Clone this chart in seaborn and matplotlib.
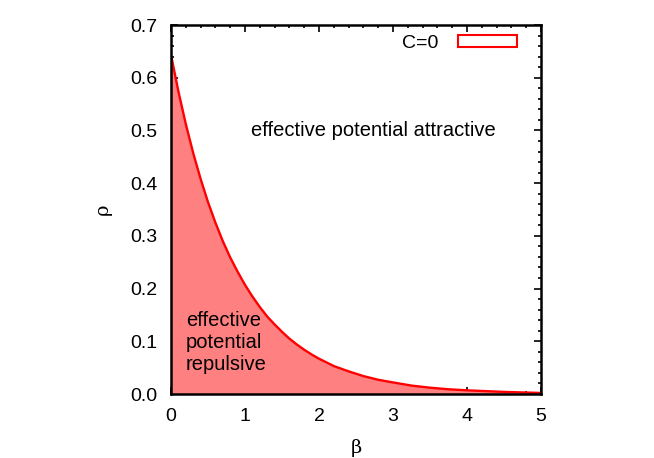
import matplotlib
matplotlib.use("Agg")
import matplotlib.pyplot as plt
import seaborn as sns
import pandas as pd
from matplotlib.patches import Patch
from matplotlib.ticker import MultipleLocator

beta = [0.0, 0.1, 0.2, 0.3, 0.4, 0.5, 0.6, 0.7, 0.8, 0.9, 1.0, 1.1, 1.2, 1.3, 1.4,
        1.5, 1.6, 1.7, 1.8, 1.9, 2.0, 2.2, 2.4, 2.6, 2.8, 3.0, 3.25, 3.5, 3.75,
        4.0, 4.5, 5.0]
rho = [0.643, 0.574, 0.512, 0.457, 0.408, 0.364, 0.325, 0.290, 0.259, 0.232,
       0.207, 0.185, 0.165, 0.147, 0.132, 0.118, 0.105, 0.094, 0.084, 0.075,
       0.067, 0.053, 0.043, 0.034, 0.027, 0.022, 0.016, 0.012, 0.009, 0.007,
       0.004, 0.002]
x_ticks = [0, 1, 2, 3, 4, 5]
y_ticks = [0.0, 0.1, 0.2, 0.3, 0.4, 0.5, 0.6, 0.7]
legend_label = "C=0"

sns.set_theme(style="white")
plt.rcParams['font.family'] = ['Liberation Sans', 'DejaVu Sans']
plt.rcParams['text.color'] = 'black'
plt.rcParams['xtick.color'] = 'black'
plt.rcParams['ytick.color'] = 'black'
plt.rcParams['axes.labelcolor'] = 'black'

df = pd.DataFrame({"beta": beta, "rho": rho})

fig = plt.figure(figsize=(6.54, 4.58), dpi=100)
ax = fig.add_axes([0.2615, 0.1397, 0.5657, 0.8057])

ax.fill_between(df["beta"], 0, df["rho"], color="#ff8080", linewidth=0, zorder=1)
sns.lineplot(data=df, x="beta", y="rho", ax=ax, color="red", linewidth=1.7, zorder=2)

ax.set_xlim(0, 5)
ax.set_ylim(0, 0.7)
ax.set_xticks(x_ticks)
ax.set_yticks(y_ticks)
ax.set_xticklabels([str(t) for t in x_ticks])
ax.set_yticklabels([f"{t:.1f}" for t in y_ticks])
ax.xaxis.set_minor_locator(MultipleLocator(0.2))
ax.yaxis.set_minor_locator(MultipleLocator(0.02))
ax.tick_params(which="both", direction="in", top=True, right=True, bottom=True, left=True,
               color="black", labelsize=14, pad=10)
ax.tick_params(which="major", length=5, width=1.2)
ax.tick_params(which="minor", length=2.5, width=1.2)
for s in ax.spines.values():
    s.set_color("black")
    s.set_linewidth(1.8)
    s.set_zorder(5)

ax.set_xlabel("β", fontsize=14, family=['DejaVu Serif'], labelpad=10)
ax.set_ylabel("ρ", fontsize=14, family=['DejaVu Serif'], labelpad=13)

ax.text(2.73, 0.499, "effective potential attractive", ha="center", va="center", fontsize=14.5)
ax.text(0.2, 0.097, "effective\npotential\nrepulsive", ha="left", va="center",
        fontsize=14.5, linespacing=1.2)

handle = Patch(facecolor="white", edgecolor="red", linewidth=1.5)
leg = ax.legend([handle], [legend_label], loc="upper right", markerfirst=False,
                frameon=False, fontsize=14, handlelength=3.0, handleheight=0.6,
                borderaxespad=0.3, handletextpad=1.0, bbox_to_anchor=(0.971, 1.01))

fig.savefig("out.png", dpi=100)
